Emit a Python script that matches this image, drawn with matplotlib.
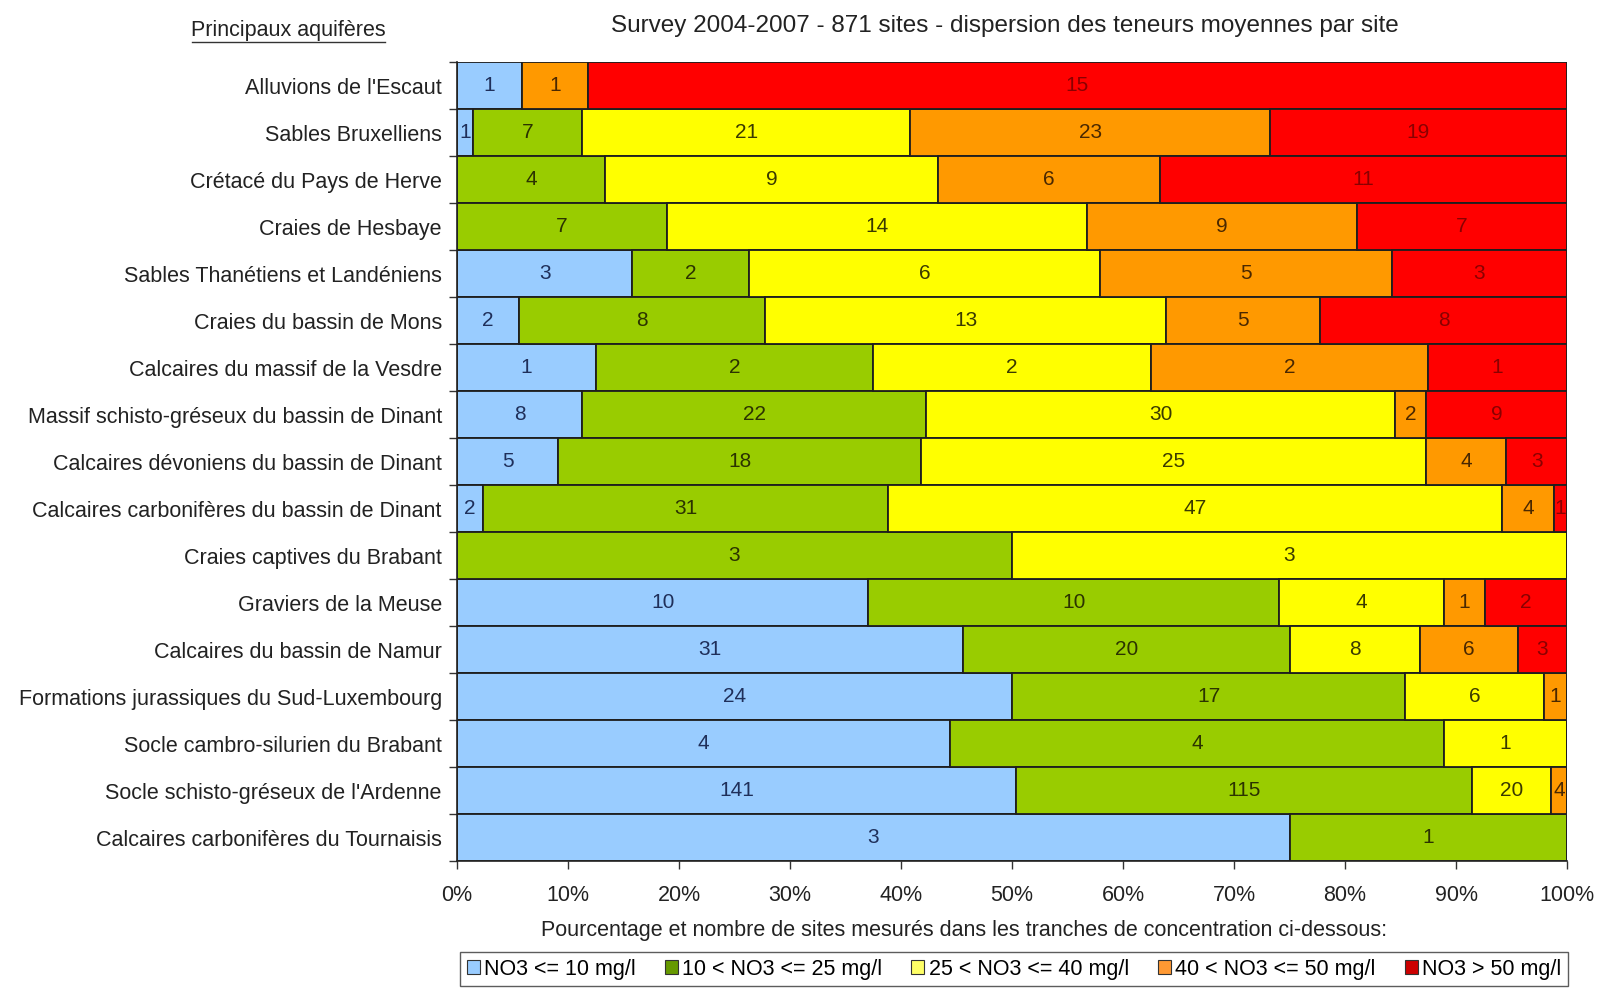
import matplotlib
matplotlib.use("Agg")
import matplotlib.pyplot as plt
import numpy as np
from matplotlib.patches import Patch

plt.rcParams['font.family'] = ['Liberation Sans', 'DejaVu Sans']

aquifers = [
    "Alluvions de l'Escaut",
    "Sables Bruxelliens",
    "Crétacé du Pays de Herve",
    "Craies de Hesbaye",
    "Sables Thanétiens et Landéniens",
    "Craies du bassin de Mons",
    "Calcaires du massif de la Vesdre",
    "Massif schisto-gréseux du bassin de Dinant",
    "Calcaires dévoniens du bassin de Dinant",
    "Calcaires carbonifères du bassin de Dinant",
    "Craies captives du Brabant",
    "Graviers de la Meuse",
    "Calcaires du bassin de Namur",
    "Formations jurassiques du Sud-Luxembourg",
    "Socle cambro-silurien du Brabant",
    "Socle schisto-gréseux de l'Ardenne",
    "Calcaires carbonifères du Tournaisis",
]

# number of sites per concentration class
no3_le10 = [1, 1, 0, 0, 3, 2, 1, 8, 5, 2, 0, 10, 31, 24, 4, 141, 3]
no3_10_25 = [0, 7, 4, 7, 2, 8, 2, 22, 18, 31, 3, 10, 20, 17, 4, 115, 1]
no3_25_40 = [0, 21, 9, 14, 6, 13, 2, 30, 25, 47, 3, 4, 8, 6, 1, 20, 0]
no3_40_50 = [1, 23, 6, 9, 5, 5, 2, 2, 4, 4, 0, 1, 6, 1, 0, 4, 0]
no3_gt50 = [15, 19, 11, 7, 3, 8, 1, 9, 3, 1, 0, 2, 3, 0, 0, 0, 0]

classes = ["NO3 <= 10 mg/l", "10 < NO3 <= 25 mg/l", "25 < NO3 <= 40 mg/l",
           "40 < NO3 <= 50 mg/l", "NO3 > 50 mg/l"]
tick_labels = ["0%", "10%", "20%", "30%", "40%", "50%", "60%", "70%", "80%", "90%", "100%"]

colors = ["#99ccff", "#99cc00", "#ffff00", "#ff9900", "#ff0000"]
text_colors = ["#1f2f5a", "#2b3300", "#3a3a00", "#4a2800", "#8a0000"]
legend_marker = ["#99ccff", "#669900", "#ffff66", "#ff9933", "#cc0000"]

FS = 15.5

counts = np.array([no3_le10, no3_10_25, no3_25_40, no3_40_50, no3_gt50], dtype=float)
totals = counts.sum(axis=0)
pct = counts / totals * 100

fig = plt.figure(figsize=(15.98, 9.90), dpi=100)
ax = fig.add_axes([0.286, 0.130, 0.6946, 0.807])

y = np.arange(len(aquifers))
left = np.zeros(len(aquifers))
for k in range(5):
    ax.barh(y, pct[k], left=left, height=1.0, color=colors[k],
            edgecolor="#1e1e1e", linewidth=1.3, zorder=2)
    for i in range(len(aquifers)):
        if counts[k, i] > 0:
            ax.text(left[i] + pct[k, i] / 2, y[i], str(int(counts[k, i])),
                    ha="center", va="center", fontsize=15,
                    color=text_colors[k], zorder=3)
    left += pct[k]

ax.set_ylim(len(aquifers) - 0.5, -0.5)
ax.set_xlim(0, 100)
ax.set_yticks(y)
ax.set_yticklabels(aquifers, fontsize=FS, color="#222222")
ax.set_yticks(np.arange(-0.5, len(aquifers), 1.0), minor=True)
ax.tick_params(axis="y", which="major", length=0, pad=11)
ax.tick_params(axis="y", which="minor", length=6, width=1, color="#333333")
ax.set_xticks(np.arange(0, 101, 10))
ax.set_xticklabels(tick_labels, fontsize=FS, color="#222222")
ax.tick_params(axis="x", length=6, width=1, color="#333333", pad=11)

for s in ["top", "right"]:
    ax.spines[s].set_visible(False)
for s in ["left", "bottom"]:
    ax.spines[s].set_color("#222222")
    ax.spines[s].set_linewidth(1.2)

fig.text(0.603, 0.0605,
         "Pourcentage et nombre de sites mesurés dans les tranches de concentration ci-dessous:",
         ha="center", va="center", fontsize=FS, color="#222222")

fig.text(0.629, 0.974, "Survey 2004-2007 - 871 sites - dispersion des teneurs moyennes par site",
         ha="center", va="center", fontsize=17.5, color="#222222")
fig.text(0.1805, 0.969, "Principaux aquifères", ha="center", va="center",
         fontsize=FS, color="#222222")
fig.add_artist(plt.Line2D([0.120, 0.241], [0.958, 0.958], color="#333333", linewidth=1))

handles = [Patch(facecolor=legend_marker[k], edgecolor="#333333", linewidth=0.8, label=classes[k])
           for k in range(5)]
leg = fig.legend(handles=handles, loc="lower left", ncol=5,
                 bbox_to_anchor=(0.288, 0.004, 0.693, 0.035), mode="expand",
                 borderaxespad=0, fontsize=FS, frameon=True, fancybox=False,
                 edgecolor="#333333", handlelength=0.6, handleheight=0.6,
                 handletextpad=0.2, borderpad=0.3, columnspacing=0.8)
leg.get_frame().set_linewidth(1.0)

fig.savefig("out.png", dpi=100, facecolor="white")
